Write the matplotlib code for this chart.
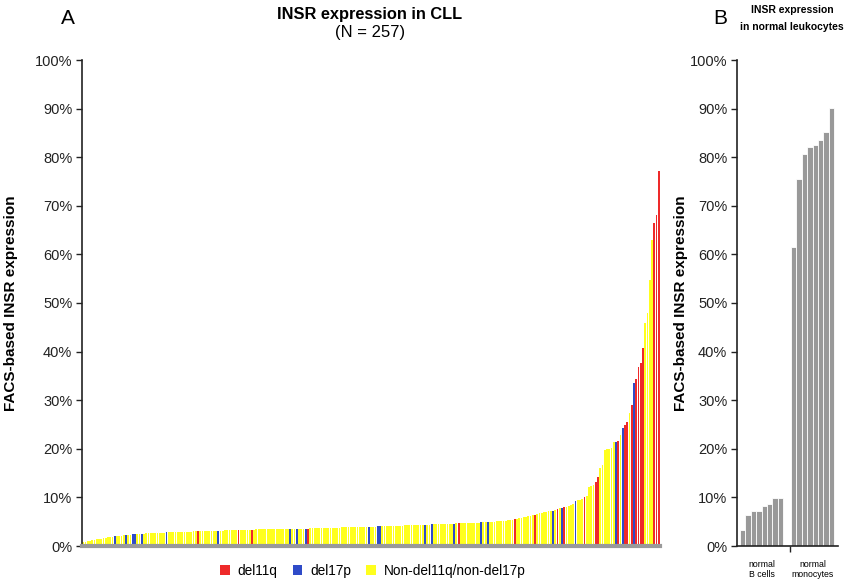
import matplotlib
matplotlib.use("Agg")
import matplotlib.pyplot as plt
from matplotlib.patches import Patch
from matplotlib.ticker import MultipleLocator, FuncFormatter

plt.rcParams['font.family'] = ['Liberation Sans', 'DejaVu Sans']

# ---------------- data: panel A (257 CLL samples, sorted) ----------------
cll_values = [
    0.8, 0.9, 1.0, 1.1, 1.2, 1.3, 1.4, 1.4, 1.5, 1.6,
    1.7, 1.8, 1.9, 1.9, 2.0, 2.0, 2.1, 2.1, 2.2, 2.2,
    2.3, 2.3, 2.4, 2.4, 2.4, 2.5, 2.5, 2.5, 2.6, 2.6,
    2.6, 2.6, 2.7, 2.7, 2.7, 2.7, 2.7, 2.8, 2.8, 2.8,
    2.8, 2.8, 2.8, 2.9, 2.9, 2.9, 2.9, 2.9, 2.9, 3.0,
    3.0, 3.0, 3.0, 3.0, 3.0, 3.0, 3.1, 3.1, 3.1, 3.1,
    3.1, 3.1, 3.1, 3.2, 3.2, 3.2, 3.2, 3.2, 3.2, 3.2,
    3.3, 3.3, 3.3, 3.3, 3.3, 3.3, 3.3, 3.4, 3.4, 3.4,
    3.4, 3.4, 3.4, 3.4, 3.4, 3.5, 3.5, 3.5, 3.5, 3.5,
    3.5, 3.5, 3.5, 3.5, 3.6, 3.6, 3.6, 3.6, 3.6, 3.6,
    3.6, 3.7, 3.7, 3.7, 3.7, 3.7, 3.7, 3.7, 3.8, 3.8,
    3.8, 3.8, 3.8, 3.8, 3.8, 3.9, 3.9, 3.9, 3.9, 3.9,
    3.9, 3.9, 3.9, 4.0, 4.0, 4.0, 4.0, 4.0, 4.0, 4.0,
    4.0, 4.1, 4.1, 4.1, 4.1, 4.1, 4.1, 4.2, 4.2, 4.2,
    4.2, 4.2, 4.2, 4.3, 4.3, 4.3, 4.3, 4.3, 4.3, 4.3,
    4.4, 4.4, 4.4, 4.4, 4.4, 4.5, 4.5, 4.5, 4.5, 4.5,
    4.5, 4.6, 4.6, 4.6, 4.6, 4.6, 4.7, 4.7, 4.7, 4.7,
    4.7, 4.8, 4.8, 4.8, 4.8, 4.8, 4.8, 4.9, 4.9, 4.9,
    4.9, 5.0, 5.0, 5.0, 5.1, 5.1, 5.1, 5.2, 5.2, 5.3,
    5.3, 5.4, 5.5, 5.6, 5.7, 5.8, 5.9, 6.0, 6.1, 6.2,
    6.3, 6.4, 6.5, 6.7, 6.8, 6.9, 7.0, 7.1, 7.2, 7.3,
    7.4, 7.6, 7.8, 7.9, 8.0, 8.1, 8.2, 8.4, 8.6, 9.3,
    9.4, 9.5, 9.6, 10.0, 10.3, 12.2, 12.3, 12.5, 13.2, 14.3,
    16.0, 16.7, 19.8, 20.0, 20.0, 20.2, 21.4, 21.5, 21.6, 22.8,
    24.3, 24.9, 25.6, 27.3, 29.0, 33.6, 34.3, 36.9, 37.7, 40.7,
    45.9, 47.9, 54.7, 63.0, 66.4, 68.2, 77.2,
]
# positions (rank) of samples with each cytogenetic group
del17p_idx = [14, 19, 22, 23, 26, 37, 60, 92, 95, 99, 127, 131, 132, 152,
              155, 165, 177, 180, 209, 213, 219, 237, 240, 245]
del11q_idx = [51, 69, 75, 100, 167, 192, 201, 211, 214, 223, 228, 229, 238,
              241, 242, 244, 246, 247, 248, 249, 254, 255, 256]
group_labels = ['del11q', 'del17p', 'Non-del11q/non-del17p']
group_colors = ['#EE2A2A', '#2F4BC8', '#FFFF1E']

# ---------------- data: panel B (normal leukocytes) ----------------
bcell_values = [3.3, 6.3, 7.2, 7.2, 8.2, 8.7, 9.8, 9.8]
mono_values = [61.5, 75.5, 80.7, 82.1, 82.6, 83.6, 85.2, 90.2]
b_labels = ['normal\nB cells', 'normal\nmonocytes']

# ---------------- figure ----------------
W, H = 849, 583
fig = plt.figure(figsize=(W / 100, H / 100), dpi=100)

def fx(px):
    return px / W

def fy(py):
    return 1 - py / H

pct = FuncFormatter(lambda v, p: f"{int(round(v))}%")

# ---- panel A ----
axA = fig.add_axes([fx(82), fy(546), fx(660) - fx(82), fy(60) - fy(546)])
n = len(cll_values)
colors = []
for i in range(n):
    if i in del11q_idx:
        colors.append(group_colors[0])
    elif i in del17p_idx:
        colors.append(group_colors[1])
    else:
        colors.append(group_colors[2])
axA.bar(range(n), cll_values, width=0.8, color=colors, linewidth=0)
axA.set_xlim(-0.6, n - 0.4)
axA.set_ylim(0, 100)
axA.yaxis.set_major_locator(MultipleLocator(10))
axA.yaxis.set_major_formatter(pct)
axA.set_xticks([])
for s in ['top', 'right']:
    axA.spines[s].set_visible(False)
axA.spines['left'].set_color('#222222')
axA.spines['left'].set_linewidth(1.2)
axA.spines['bottom'].set_color('#9a9a9a')
axA.spines['bottom'].set_linewidth(3)
axA.tick_params(axis='y', direction='out', length=4, width=1, labelsize=10.5,
                colors='#222222', pad=3)
axA.set_ylabel('FACS-based INSR expression', fontsize=11, fontweight='bold')
axA.yaxis.set_label_coords((18 - 82) / 578, 0.5)

fig.text(fx(68), fy(19), 'A', fontsize=15, ha='center', va='center')
fig.text(fx(370), fy(15), 'INSR expression in CLL', fontsize=11.8,
         fontweight='bold', ha='center', va='center')
fig.text(fx(370), fy(32), '(N = 257)', fontsize=12, ha='center', va='center')

# legend
handles = [Patch(facecolor=c, edgecolor='none') for c in group_colors]
fig.legend(handles, group_labels, loc='center', bbox_to_anchor=(fx(373), fy(571)),
           ncol=3, frameon=False, fontsize=9.8, handlelength=0.7,
           handleheight=0.7, columnspacing=1.1, handletextpad=0.6)

# ---- panel B ----
axB = fig.add_axes([fx(737), fy(546), fx(838) - fx(737), fy(60) - fy(546)])
b_pos = list(range(len(bcell_values)))
m_pos = [9.4 + k for k in range(len(mono_values))]
axB.bar(b_pos, bcell_values, width=1.0, color='#999999', edgecolor='white',
        linewidth=0.6)
axB.bar(m_pos, mono_values, width=1.0, color='#999999', edgecolor='white',
        linewidth=0.6)
axB.set_xlim(-1.05, 17.6)
axB.set_ylim(0, 100)
axB.yaxis.set_major_locator(MultipleLocator(10))
axB.yaxis.set_major_formatter(pct)
axB.set_xticks([8.7])
axB.set_xticklabels([''])
axB.tick_params(axis='x', direction='out', length=4, width=1, colors='#222222')
for s in ['top', 'right']:
    axB.spines[s].set_visible(False)
for s in ['left', 'bottom']:
    axB.spines[s].set_color('#222222')
    axB.spines[s].set_linewidth(1.2)
axB.tick_params(axis='y', direction='out', length=4, width=1, labelsize=10.5,
                colors='#222222', pad=3)
axB.set_ylabel('FACS-based INSR expression', fontsize=11, fontweight='bold')
axB.yaxis.set_label_coords((688 - 737) / 101, 0.5)
axB.text((b_pos[0] + b_pos[-1]) / 2, -2.9, b_labels[0], fontsize=6.3,
         ha='center', va='top', linespacing=1.15, transform=axB.transData)
axB.text((m_pos[0] + m_pos[-1]) / 2, -2.9, b_labels[1], fontsize=6.3,
         ha='center', va='top', linespacing=1.15, transform=axB.transData)

fig.text(fx(720), fy(18), 'B', fontsize=15, ha='center', va='center')
fig.text(fx(792), fy(10), 'INSR expression', fontsize=7.5, fontweight='bold',
         ha='center', va='center')
fig.text(fx(792), fy(27), 'in normal leukocytes', fontsize=7.5,
         fontweight='bold', ha='center', va='center')

fig.savefig('out.png', dpi=100)
